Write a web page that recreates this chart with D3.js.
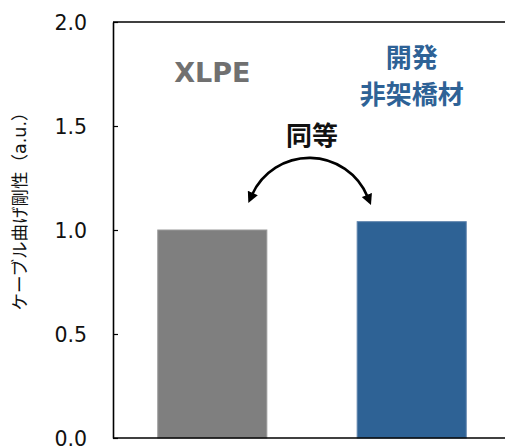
<!DOCTYPE html>
<html><head><meta charset="utf-8">
<script src="https://cdn.jsdelivr.net/npm/d3@7"></script>
<style>html,body{margin:0;padding:0;background:#fff;}</style>
</head><body>
<svg id="c" width="505" height="448"></svg>
<script>
const categories = ["XLPE", "開発非架橋材"];
const values = [1.0, 1.04];
const barColors = ["#7f7f7f", "#2e6295"];
const barStroke = ["#9a9a9a", "#5f84ad"];
const yTicks = [0.0, 0.5, 1.0, 1.5, 2.0];
const yLabel = "ケーブル曲げ剛性（a.u.）";
const compareLabel = "同等";

const FONT = "'Noto Sans CJK JP','Noto Sans',sans-serif";
const LATIN = "'DejaVu Sans','Noto Sans CJK JP',sans-serif";
const svg = d3.select("#c");
const x = d3.scaleBand().domain(categories).range([113, 511]).paddingInner(0.448).paddingOuter(0.222);
const y = d3.scaleLinear().domain([0, 2]).range([438, 22]);

// bars
svg.selectAll("rect.bar").data(values).enter().append("rect")
  .attr("x", (d,i) => x(categories[i]) + 0.5)
  .attr("y", d => y(d))
  .attr("width", x.bandwidth() - 1)
  .attr("height", d => y(0) - y(d))
  .attr("fill", (d,i) => barColors[i])
  .attr("stroke", (d,i) => barStroke[i])
  .attr("stroke-width", 1);

// frame lines
svg.append("line").attr("x1", 113).attr("x2", 505).attr("y1", y(2)).attr("y2", y(2)).attr("stroke", "#000").attr("stroke-width", 1.6);
svg.append("line").attr("x1", 113).attr("x2", 505).attr("y1", y(0)).attr("y2", y(0)).attr("stroke", "#000").attr("stroke-width", 1.6);

// y axis
const yAxis = d3.axisLeft(y).tickValues(yTicks).tickFormat(d3.format(".1f")).tickSizeInner(-5).tickSizeOuter(0).tickPadding(26);
const gy = svg.append("g").attr("transform", "translate(113,0)").call(yAxis);
gy.select(".domain").attr("stroke", "#000").attr("stroke-width", 1.6);
gy.selectAll(".tick line").attr("stroke", "#000").attr("stroke-width", 1.2);
gy.selectAll(".tick text").attr("font-family", LATIN).attr("font-size", 20.5).attr("fill", "#111").attr("dy", "0.36em");

// y label
svg.append("text").attr("transform", "translate(26,207) rotate(-90)")
  .attr("text-anchor", "middle").attr("font-family", LATIN).attr("font-size", 17.5).attr("fill", "#111")
  .text(yLabel);

// category labels
svg.append("text").attr("x", x(categories[0]) + x.bandwidth()/2).attr("y", 82)
  .attr("text-anchor", "middle").attr("font-family", LATIN).attr("font-weight", "bold").attr("font-size", 27)
  .attr("fill", "#707070").text(categories[0]);
const cx2 = x(categories[1]) + x.bandwidth()/2;
const t2 = svg.append("text").attr("text-anchor", "middle").attr("font-family", FONT).attr("font-weight", "bold").attr("font-size", 26).attr("fill", "#2e6296");
t2.append("tspan").attr("x", cx2).attr("y", 67).text(categories[1].slice(0,2));
t2.append("tspan").attr("x", cx2).attr("y", 104).text(categories[1].slice(2));

// compare label
const midX = (x(categories[0]) + x(categories[1]) + x.bandwidth()) / 2;
svg.append("text").attr("x", midX).attr("y", 145).attr("text-anchor", "middle")
  .attr("font-family", FONT).attr("font-weight", "bold").attr("font-size", 26).attr("fill", "#111").text(compareLabel);

// double arrow arc
const defs = svg.append("defs");
defs.append("marker").attr("id", "ah").attr("viewBox", "0 0 10 10").attr("refX", 2).attr("refY", 5)
  .attr("markerWidth", 4.4).attr("markerHeight", 4.2).attr("orient", "auto-start-reverse").attr("markerUnits", "strokeWidth")
  .append("path").attr("d", "M0,0 L10,5 L0,10 z").attr("fill", "#000");
const ax1 = x(categories[0]) + x.bandwidth()*0.86, ax2 = x(categories[1]) + x.bandwidth()*0.1;
svg.append("path")
  .attr("d", `M${ax1},195 A63,63 0 0 1 ${ax2},197`)
  .attr("fill", "none").attr("stroke", "#000").attr("stroke-width", 2.6)
  .attr("marker-start", "url(#ah)").attr("marker-end", "url(#ah)");
</script>
</body></html>
